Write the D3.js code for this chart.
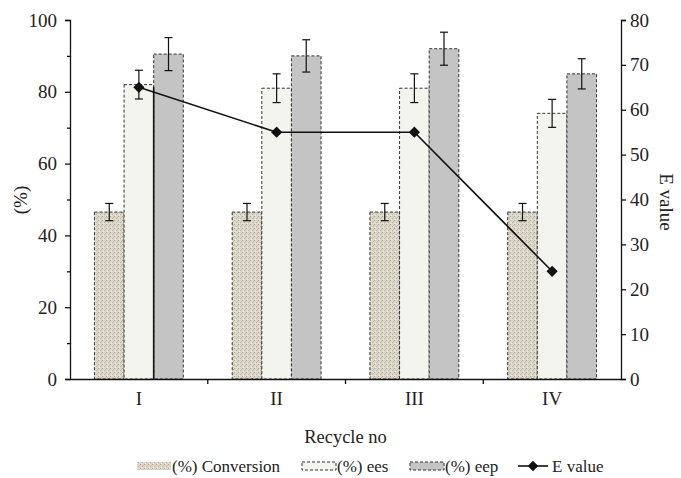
<!DOCTYPE html>
<html>
<head>
<meta charset="utf-8">
<script src="https://cdn.jsdelivr.net/npm/d3@7"></script>
<style>
  body { margin: 0; background: #fff; }
  svg text { font-family: "Liberation Serif", "Times New Roman", Times, "DejaVu Serif", serif; fill: #222; }
</style>
</head>
<body>
<svg id="chart"></svg>
<script>
// data
var recycles = ["I", "II", "III", "IV"];
var conversion = [46.5, 46.5, 46.5, 46.5];
var conversionErr = [2.4, 2.4, 2.4, 2.4];
var ees = [82, 81, 81, 74];
var eesErr = [4, 4, 4, 3.9];
var eep = [90.5, 90, 92, 85];
var eepErr = [4.6, 4.5, 4.6, 4.2];
var eValue = [65, 55, 55, 24];
var leftTicks = [0, 20, 40, 60, 80, 100];
var leftMinor = [10, 30, 50, 70, 90];
var rightTicks = [0, 10, 20, 30, 40, 50, 60, 70, 80];
var seriesNames = ["(%) Conversion", "(%) ees", "(%) eep", "E value"];

var FONT = '"Liberation Serif", "Times New Roman", Times, "DejaVu Serif", serif';
var W = 681, H = 478;
var margin = { top: 20, right: 60, bottom: 99, left: 70 };
var width = W - margin.left - margin.right,
   height = H - margin.top - margin.bottom;

var svg = d3.select("svg#chart").attr("width", W).attr("height", H);

// fill pattern for the conversion bars (speckled beige)
var defs = svg.append("defs");
var pat = defs.append("pattern")
   .attr("id", "convPat")
   .attr("patternUnits", "userSpaceOnUse")
   .attr("width", 4).attr("height", 4);
pat.append("rect").attr("width", 4).attr("height", 4).attr("fill", "#dcd7c8");
pat.append("rect").attr("x", 0).attr("y", 0).attr("width", 1).attr("height", 1).attr("fill", "#a9a599");
pat.append("rect").attr("x", 2).attr("y", 2).attr("width", 1).attr("height", 1).attr("fill", "#b8b4a8");
pat.append("rect").attr("x", 1).attr("y", 3).attr("width", 1).attr("height", 1).attr("fill", "#eeebe2");
pat.append("rect").attr("x", 3).attr("y", 1).attr("width", 1).attr("height", 1).attr("fill", "#c4c0b3");

var g = svg.append("g").attr("transform", `translate(${margin.left}, ${margin.top})`);

var x = d3.scaleBand().domain(recycles).range([0, width]).paddingInner(0).paddingOuter(0);
var barW = x.bandwidth() * 0.215;
var y = d3.scaleLinear().domain([0, 100]).range([height, 0]);
var yR = d3.scaleLinear().domain([0, 80]).range([height, 0]);

var bars = [
   { key: "conv", vals: conversion, err: conversionErr, fill: "url(#convPat)" },
   { key: "ees", vals: ees, err: eesErr, fill: "#f4f4ee" },
   { key: "eep", vals: eep, err: eepErr, fill: "#c4c4c4" },
];

function barX(i, j) {
   var c = x(recycles[i]) + x.bandwidth() / 2;
   return c + (j - 1.5) * barW;
}

bars.forEach(function (s, j) {
   g.selectAll(".bar-" + s.key)
      .data(s.vals)
      .enter()
      .append("rect")
      .attr("x", function (d, i) { return barX(i, j); })
      .attr("y", function (d) { return y(d); })
      .attr("width", barW)
      .attr("height", function (d) { return height - y(d); })
      .attr("fill", s.fill)
      .attr("stroke", "#333")
      .attr("stroke-width", 1)
      .attr("stroke-dasharray", "3,2");
});

// the solid drop line seen in group I
g.append("line")
   .attr("x1", barX(0, 2)).attr("x2", barX(0, 2))
   .attr("y1", yR(0)).attr("y2", yR(eValue[0]))
   .attr("stroke", "#111").attr("stroke-width", 1.6);

// error bars
bars.forEach(function (s, j) {
   s.vals.forEach(function (v, i) {
      var cx = barX(i, j) + barW / 2;
      var eb = g.append("g").attr("stroke", "#111").attr("stroke-width", 1.2);
      eb.append("line").attr("x1", cx).attr("x2", cx).attr("y1", y(v + s.err[i])).attr("y2", y(v - s.err[i]));
      eb.append("line").attr("x1", cx - 4).attr("x2", cx + 4).attr("y1", y(v + s.err[i])).attr("y2", y(v + s.err[i]));
      eb.append("line").attr("x1", cx - 4).attr("x2", cx + 4).attr("y1", y(v - s.err[i])).attr("y2", y(v - s.err[i]));
   });
});

// E value line
var eLine = d3.line()
   .x(function (d, i) { return x(recycles[i]) + x.bandwidth() / 2; })
   .y(function (d) { return yR(d); });
g.append("path")
   .datum(eValue)
   .attr("fill", "none")
   .attr("stroke", "#111")
   .attr("stroke-width", 1.6)
   .attr("d", eLine);
g.selectAll(".emark")
   .data(eValue)
   .enter()
   .append("path")
   .attr("d", d3.symbol().type(d3.symbolDiamond2).size(80))
   .attr("transform", function (d, i) {
      return `translate(${x(recycles[i]) + x.bandwidth() / 2}, ${yR(d)})`;
   })
   .attr("fill", "#111");

// axes
var la = g.append("g").call(d3.axisLeft(y).tickValues(leftTicks).tickSize(5));
var lm = g.append("g").call(d3.axisLeft(y).tickValues(leftMinor).tickSize(3).tickFormat(""));
lm.select(".domain").remove();
var ra = g.append("g").attr("transform", `translate(${width}, 0)`)
   .call(d3.axisRight(yR).tickValues(rightTicks).tickSize(5));
var xa = g.append("g").attr("transform", `translate(0, ${height})`)
   .call(d3.axisBottom(x).tickSize(0).tickPadding(13));
[la, lm, ra, xa].forEach(function (a) {
   a.attr("font-family", FONT);
   a.selectAll("path, line").attr("stroke", "#111").attr("stroke-width", 1.3);
   a.selectAll("text").style("font-size", "19px").attr("fill", "#222")
      .style("font-family", FONT);
});
la.selectAll("text").attr("x", -13);
ra.selectAll("text").attr("x", 9);
// category boundary ticks
xa.selectAll(".sep")
   .data(recycles.slice(1))
   .enter()
   .append("line")
   .attr("x1", function (d) { return x(d); })
   .attr("x2", function (d) { return x(d); })
   .attr("y1", 0).attr("y2", 5)
   .attr("stroke", "#111").attr("stroke-width", 1.3);

// axis titles
svg.append("text")
   .attr("transform", "translate(27, 200) rotate(-90)")
   .attr("text-anchor", "middle")
   .style("font-size", "19px")
   .text("(%)");
svg.append("text")
   .attr("transform", "translate(660, 202) rotate(90)")
   .attr("text-anchor", "middle")
   .style("font-size", "19px")
   .text("E value");
svg.append("text")
   .attr("x", margin.left + width / 2).attr("y", 443)
   .attr("text-anchor", "middle")
   .style("font-size", "18.5px")
   .text("Recycle no");

// legend
var legendX = [137, 302, 410, 518];
var legend = svg.append("g");
bars.forEach(function (s, j) {
   legend.append("rect")
      .attr("x", legendX[j]).attr("y", 462)
      .attr("width", 34).attr("height", 8)
      .attr("fill", s.fill)
      .attr("stroke", j === 0 ? "none" : "#333")
      .attr("stroke-dasharray", "3,2");
   legend.append("text")
      .attr("x", legendX[j] + 35).attr("y", 472)
      .style("font-size", "17px")
      .text(seriesNames[j]);
});
legend.append("line")
   .attr("x1", legendX[3]).attr("x2", legendX[3] + 30)
   .attr("y1", 466).attr("y2", 466)
   .attr("stroke", "#111").attr("stroke-width", 1.6);
legend.append("path")
   .attr("d", d3.symbol().type(d3.symbolDiamond2).size(70))
   .attr("transform", `translate(${legendX[3] + 15}, 466)`)
   .attr("fill", "#111");
legend.append("text")
   .attr("x", legendX[3] + 34).attr("y", 472)
   .style("font-size", "17px")
   .text(seriesNames[3]);
</script>
</body>
</html>
